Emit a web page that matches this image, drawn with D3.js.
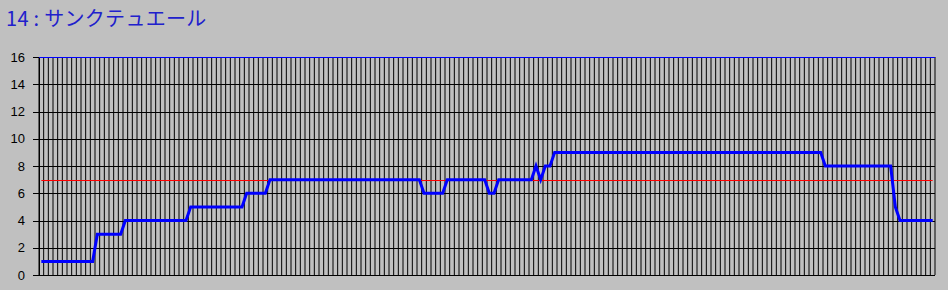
<!DOCTYPE html>
<html>
<head>
<meta charset="utf-8">
<script src="https://cdn.jsdelivr.net/npm/d3@7"></script>
<style>
  body { margin: 0; background: #c0c0c0; }
  svg { display: block; }
  .axis text { font-family: "Liberation Sans", Arial, sans-serif; font-size: 13px; fill: #000; }
  .axis path, .axis line { stroke: #000; }
</style>
</head>
<body>
<div id="chart"></div>
<script>
// chart size
var svgWidth = 948;
var svgHeight = 290;

var margin = { top: 57, right: 13, bottom: 15, left: 39 };
var width = svgWidth - margin.left - margin.right;
var height = svgHeight - margin.top - margin.bottom;

// title
var title = "14 : サンクテュエール";

// y ticks
var yTicks = [0, 2, 4, 6, 8, 10, 12, 14, 16];

// race-by-race values (blue line)
var rank = [
  1, 1, 1, 1, 1, 1, 1, 1, 1, 1, 1, 1,
  3, 3, 3, 3, 3, 3,
  4, 4, 4, 4, 4, 4, 4, 4, 4, 4, 4, 4, 4, 4,
  5, 5, 5, 5, 5, 5, 5, 5, 5, 5, 5, 5,
  6, 6, 6, 6, 6,
  7, 7, 7, 7, 7, 7, 7, 7, 7, 7, 7, 7, 7, 7, 7, 7, 7, 7, 7, 7, 7, 7, 7, 7, 7, 7, 7, 7, 7, 7, 7, 7, 7,
  6, 6, 6, 6, 6,
  7, 7, 7, 7, 7, 7, 7, 7, 7,
  6, 6,
  7, 7, 7, 7, 7, 7, 7, 7,
  8, 7, 8, 8,
  9, 9, 9, 9, 9, 9, 9, 9, 9, 9, 9, 9, 9, 9, 9, 9, 9, 9, 9, 9,
  9, 9, 9, 9, 9, 9, 9, 9, 9, 9, 9, 9, 9, 9, 9, 9, 9, 9, 9, 9,
  9, 9, 9, 9, 9, 9, 9, 9, 9, 9, 9, 9, 9, 9, 9, 9, 9, 9,
  8, 8, 8, 8, 8, 8, 8, 8, 8, 8, 8, 8, 8, 8, 8,
  5,
  4, 4, 4, 4, 4, 4, 4, 4
];

// reference level (red line)
var refLevel = 7;

// top level line (blue, at the max)
var topLevel = 16;

var categories = rank.map(function(d, i) { return i; });

var svg = d3.select("#chart")
  .append("svg")
  .attr("width", svgWidth)
  .attr("height", svgHeight);

// title
svg.append("text")
  .attr("x", 6)
  .attr("y", 26)
  .attr("fill", "#2020cc")
  .style("font-family", "'Noto Sans CJK JP', sans-serif")
  .style("font-size", "20px")
  .style("letter-spacing", "0.3px")
  .text(title);

var chartGroup = svg.append("g")
  .attr("transform", `translate(${margin.left}, ${margin.top})`);

var xScale = d3.scaleBand()
  .domain(categories)
  .range([0, width])
  .paddingInner(0)
  .paddingOuter(0);

var yScale = d3.scaleLinear()
  .domain([0, 16])
  .range([height, 0]);

var cx = function(i) { return xScale(i) + xScale.bandwidth() / 2; };

// vertical grid lines, one per category boundary
var bounds = categories.map(function(i) { return xScale(i); }).concat([width]);
chartGroup.append("g")
  .selectAll("line")
  .data(bounds)
  .enter()
  .append("line")
  .attr("x1", d => d)
  .attr("x2", d => d)
  .attr("y1", 0)
  .attr("y2", height)
  .attr("stroke", "#000")
  .attr("stroke-width", 1);

// horizontal grid lines
chartGroup.append("g")
  .selectAll("line")
  .data(yTicks.filter(d => d !== 16))
  .enter()
  .append("line")
  .attr("x1", 0)
  .attr("x2", width)
  .attr("y1", d => Math.round(yScale(d)) + 0.5)
  .attr("y2", d => Math.round(yScale(d)) + 0.5)
  .attr("stroke", "#000")
  .attr("shape-rendering", "crispEdges");

// y axis
var leftAxis = d3.axisLeft(yScale)
  .tickValues(yTicks)
  .tickSizeInner(6)
  .tickSizeOuter(0)
  .tickPadding(8);

chartGroup.append("g")
  .attr("class", "axis")
  .call(leftAxis)
  .call(g => g.selectAll("line").attr("shape-rendering", "crispEdges"))
  .call(g => g.select(".domain").attr("shape-rendering", "crispEdges"));

// top blue line
chartGroup.append("line")
  .attr("x1", 0)
  .attr("x2", width)
  .attr("y1", Math.round(yScale(topLevel)) + 0.5)
  .attr("y2", Math.round(yScale(topLevel)) + 0.5)
  .attr("stroke", "#0000ff")
  .attr("shape-rendering", "crispEdges");

// red reference line
var refLine = d3.line()
  .x((d, i) => cx(i))
  .y(() => Math.round(yScale(refLevel)) + 0.5);

chartGroup.append("path")
  .datum(rank)
  .attr("d", refLine)
  .attr("fill", "none")
  .attr("stroke", "#ff0000")
  .attr("stroke-width", 1.2);

// blue rank line
var rankLine = d3.line()
  .x((d, i) => cx(i))
  .y(d => yScale(d));

chartGroup.append("path")
  .datum(rank)
  .attr("d", rankLine)
  .attr("fill", "none")
  .attr("stroke", "#0000ff")
  .attr("stroke-width", 3)
  .attr("stroke-linejoin", "miter");
</script>
</body>
</html>
